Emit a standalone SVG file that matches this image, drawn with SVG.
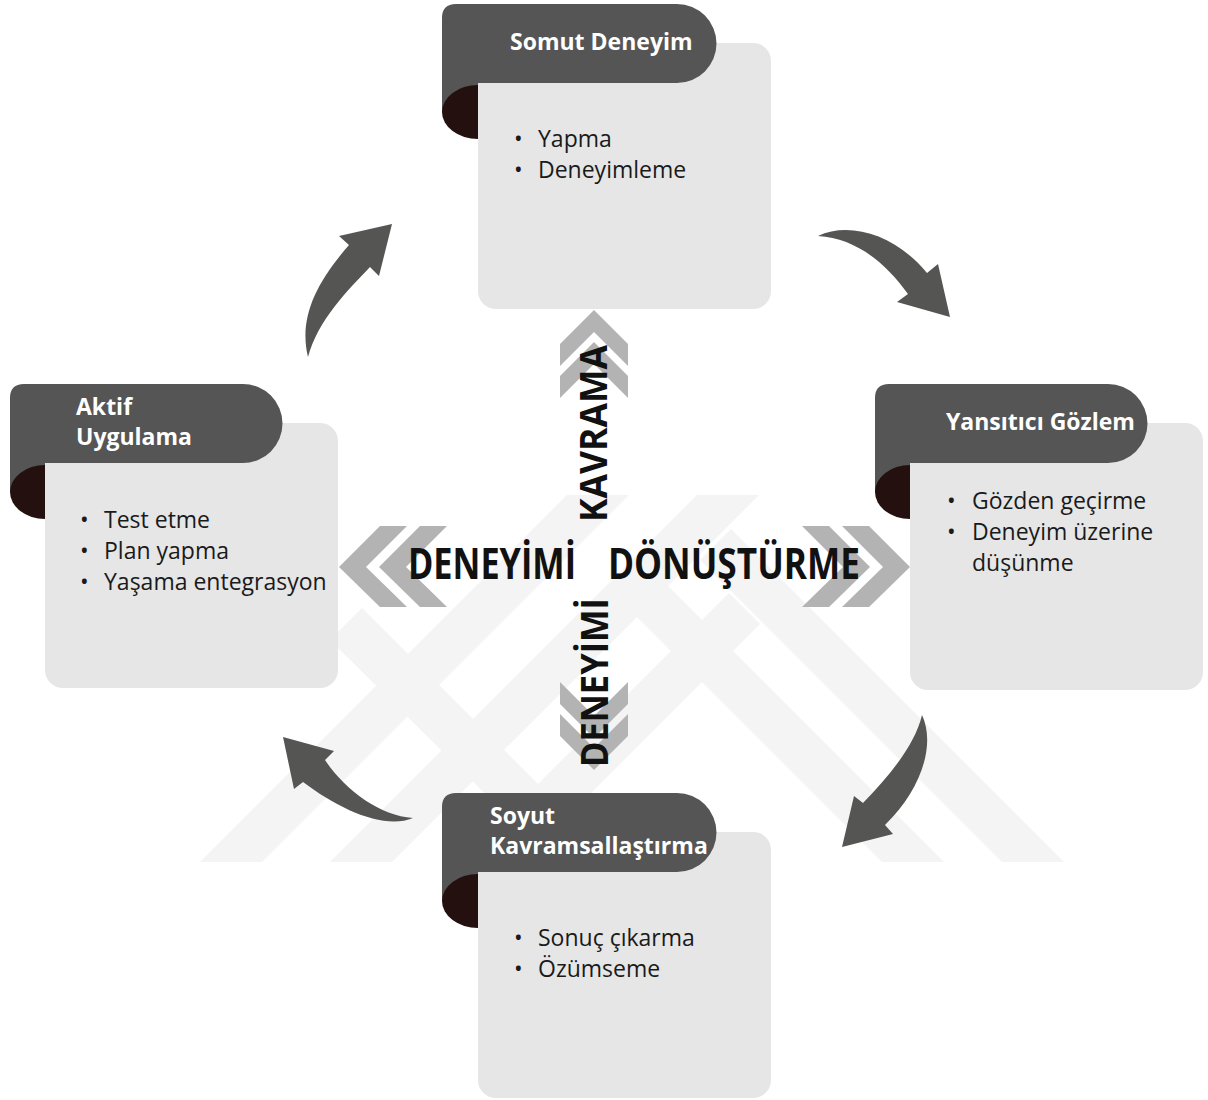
<svg xmlns="http://www.w3.org/2000/svg" width="1208" height="1100" viewBox="0 0 1208 1100">
  <style>
    .body { fill: #e6e6e6; }
    .head { fill: #555555; }
    .curl { fill: #24110f; }
    .title { font-family: "Open Sans", "Noto Sans", sans-serif; font-weight: 700; font-size: 23px; fill: #ffffff; }
    .item { font-family: "Open Sans", "Noto Sans", sans-serif; font-size: 23px; fill: #1a1a1a; }
    .axis { font-family: "Open Sans", "Noto Sans", sans-serif; font-weight: 700; fill: #111111; }
    .chev { fill: #b3b3b3; }
    .arrow { fill: #555553; }
    .mark { fill: #f4f4f4; }
  </style>

  <rect width="1208" height="1100" fill="#ffffff"/>

  <!-- faint striped emblem in the background -->
  <g id="watermark">
    <polygon class="mark" points="200,862 262,862 629,495 567,495"/>
    <polygon class="mark" points="330,862 392,862 759,495 697,495"/>
    <polygon class="mark" points="460,862 522,862 760,624 729,593"/>
    <polygon class="mark" points="330,640 362,608 616,862 554,862"/>
    <polygon class="mark" points="620,600 651,569 944,862 882,862"/>
    <polygon class="mark" points="700,560 731,529 1064,862 1002,862"/>
  </g>

  <!-- chevrons along the two axes -->
  <g id="chevrons">
    <!-- up -->
    <polygon class="chev" points="594,310 628,344 628,366 594,332 560,366 560,344"/>
    <polygon class="chev" points="594,342 628,376 628,398 594,364 560,398 560,376"/>
    <!-- down -->
    <polygon class="chev" points="560,682 594,716 628,682 628,704 594,738 560,704"/>
    <polygon class="chev" points="560,714 594,748 628,714 628,736 594,770 560,736"/>
    <!-- left -->
    <polygon class="chev" points="339,567 380,526 407,526 366,567 407,607 380,607"/>
    <polygon class="chev" points="379,567 420,526 447,526 406,567 447,607 420,607"/>
    <!-- right -->
    <polygon class="chev" points="910,567 869,526 842,526 883,567 842,607 869,607"/>
    <polygon class="chev" points="870,567 829,526 802,526 843,567 802,607 829,607"/>
  </g>

  <!-- axis captions -->
  <g id="axes">
    <text class="axis" x="408" y="579" font-size="43" textLength="168" lengthAdjust="spacingAndGlyphs">DENEYİMİ</text>
    <text class="axis" x="608" y="579" font-size="43" textLength="252" lengthAdjust="spacingAndGlyphs">DÖNÜŞTÜRME</text>
    <text class="axis" transform="translate(607,522) rotate(-90)" font-size="37" textLength="177" lengthAdjust="spacingAndGlyphs">KAVRAMA</text>
    <text class="axis" transform="translate(608,767) rotate(-90)" font-size="37" textLength="169" lengthAdjust="spacingAndGlyphs">DENEYİMİ</text>
  </g>

  <!-- curved arrows between the stages -->
  <g id="connectors">
    <path class="arrow" d="M308,357 C299,320 314,285 349,245 L339,236 L392,224 L379,276 L370,267 C348,290 318,320 308,357 Z"/>
    <path class="arrow" d="M818,236 C850,221 896,235 927,273 L938,264 L950,317 L897,302 L908,294 C885,262 855,238 818,236 Z"/>
    <path class="arrow" d="M922,715 C936,745 921,790 885,825 L893,834 L842,847 L854,796 L863,803 C890,775 915,745 922,715 Z"/>
    <path class="arrow" d="M413,818 C380,816 345,790 325,760 L334,751 L283,737 L294,789 L303,782 C340,810 385,830 413,818 Z"/>
  </g>

  <!-- stage: concrete experience -->
  <g id="somut-deneyim">
    <rect class="body" x="478" y="43" width="293" height="266" rx="18"/>
    <path class="head" d="M456,4 H677 A39.5,39.5 0 0 1 677,83 H478 V112 H442 V18 Q442,4 456,4 Z"/>
    <path class="curl" d="M478,85 A36,27 0 0 0 478,139 Z"/>
    <text class="title" x="510" y="50">Somut Deneyim</text>
    <text class="item" x="514" y="147">•</text>
    <text class="item" x="538" y="147">Yapma</text>
    <text class="item" x="514" y="178">•</text>
    <text class="item" x="538" y="178">Deneyimleme</text>
  </g>

  <!-- stage: reflective observation -->
  <g id="yansitici-gozlem">
    <rect class="body" x="910" y="423" width="293" height="267" rx="18"/>
    <path class="head" d="M889,384 H1108 A39.5,39.5 0 0 1 1108,463 H910 V492 H875 V398 Q875,384 889,384 Z"/>
    <path class="curl" d="M910,465 A35,27 0 0 0 910,519 Z"/>
    <text class="title" x="946" y="430">Yansıtıcı Gözlem</text>
    <text class="item" x="947" y="509">•</text>
    <text class="item" x="972" y="509">Gözden geçirme</text>
    <text class="item" x="947" y="540">•</text>
    <text class="item" x="972" y="540">Deneyim üzerine</text>
    <text class="item" x="972" y="571">düşünme</text>
  </g>

  <!-- stage: active experimentation -->
  <g id="aktif-uygulama">
    <rect class="body" x="45" y="423" width="293" height="265" rx="18"/>
    <path class="head" d="M24,384 H243 A39.5,39.5 0 0 1 243,463 H45 V492 H10 V398 Q10,384 24,384 Z"/>
    <path class="curl" d="M45,465 A35,27 0 0 0 45,519 Z"/>
    <text class="title" x="76" y="415">Aktif</text>
    <text class="title" x="76" y="445">Uygulama</text>
    <text class="item" x="80" y="528">•</text>
    <text class="item" x="104" y="528">Test etme</text>
    <text class="item" x="80" y="559">•</text>
    <text class="item" x="104" y="559">Plan yapma</text>
    <text class="item" x="80" y="590">•</text>
    <text class="item" x="104" y="590">Yaşama entegrasyon</text>
  </g>

  <!-- stage: abstract conceptualisation -->
  <g id="soyut-kavramsallastirma">
    <rect class="body" x="478" y="832" width="293" height="266" rx="18"/>
    <path class="head" d="M456,793 H677 A39.5,39.5 0 0 1 677,872 H478 V901 H442 V807 Q442,793 456,793 Z"/>
    <path class="curl" d="M478,874 A36,27 0 0 0 478,928 Z"/>
    <text class="title" x="490" y="824">Soyut</text>
    <text class="title" x="490" y="854">Kavramsallaştırma</text>
    <text class="item" x="514" y="946">•</text>
    <text class="item" x="538" y="946">Sonuç çıkarma</text>
    <text class="item" x="514" y="977">•</text>
    <text class="item" x="538" y="977">Özümseme</text>
  </g>
</svg>
